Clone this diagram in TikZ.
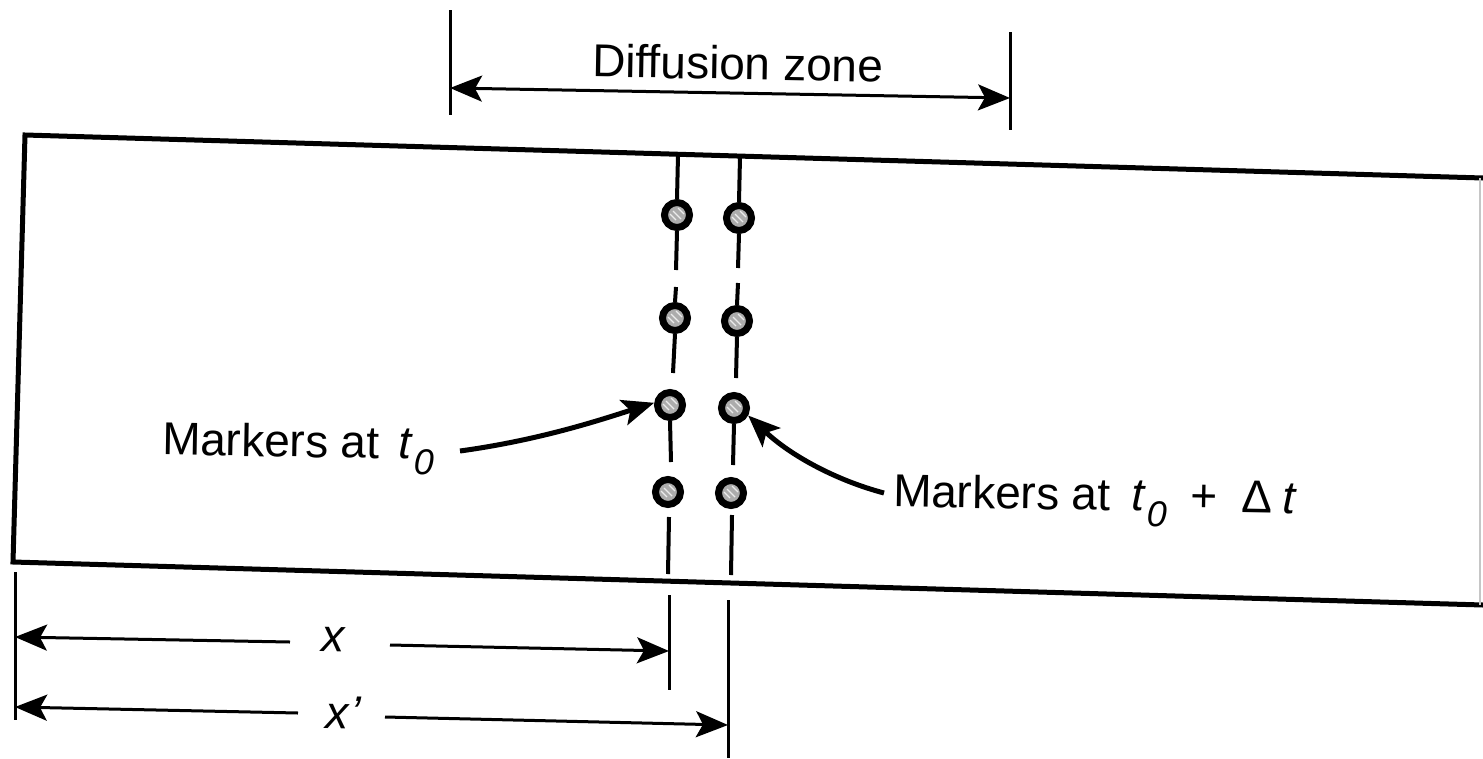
\documentclass[tikz,border=0pt]{standalone}
\usepackage{fontspec}
\setmainfont{Liberation Sans}
\usetikzlibrary{arrows.meta}
\newcommand{\tnought}{{\itshape t}\kern3pt\raisebox{-0.34em}{\fontsize{36}{36}\selectfont\itshape 0}}
\begin{document}
\begin{tikzpicture}[x=1pt,y=-1pt,
  edge/.style={line width=5pt, line join=miter},
  col/.style={line width=4pt},
  dim/.style={line width=3pt},
  tip/.style={-{Stealth[length=32pt,width=26pt,inset=7pt]}},
  lbl/.style={font=\fontsize{46}{50}\selectfont, inner sep=0pt, rotate=-1},
  marker/.style={circle, draw=black, line width=7pt, fill=gray!65, minimum size=25pt, inner sep=0pt,
    path picture={\draw[white!85!gray, line width=1.4pt] ([shift={(-4pt,4pt)}]path picture bounding box.center) -- ++(8pt,-8pt);
                  \draw[white!85!gray, line width=1.1pt] ([shift={(-7pt,1pt)}]path picture bounding box.center) -- ++(6pt,-6pt);
                  \draw[white!85!gray, line width=1.1pt] ([shift={(1pt,7pt)}]path picture bounding box.center) -- ++(6pt,-6pt);}}
]
\useasboundingbox (0,0) rectangle (1483,758);
\fill[white] (0,0) rectangle (1483,758);

% slab
\coordinate (TR) at (1483,178);
\coordinate (TL) at (25,135);
\coordinate (BL) at (13,562);
\coordinate (BR) at (1483,605);
\draw[edge] (TR) -- (TL) -- (BL) -- (BR);
\coordinate (RT) at (1480,178);
\coordinate (RB) at (1480,605);
\draw[gray!45, line width=1.5pt] (RT) -- (RB);

% markers
\node[marker] (L1) at (677,215) {};
\node[marker] (L2) at (675,318) {};
\node[marker] (L3) at (670,405) {};
\node[marker] (L4) at (668,492) {};
\node[marker] (R1) at (739,218) {};
\node[marker] (R2) at (737,321) {};
\node[marker] (R3) at (734,408) {};
\node[marker] (R4) at (731,493) {};

% column line segments
\coordinate (La) at (678,155);
\coordinate (Lb) at (676,270);
\coordinate (Lc) at (676,287);
\coordinate (Ld) at (673,373);
\coordinate (Le) at (671,462);
\coordinate (Lf) at (669,517);
\coordinate (Lg) at (668,574);
\draw[col] (La) -- (L1.north);
\draw[col] (L1.south) -- (Lb);
\draw[col] (Lc) -- (L2.north);
\draw[col] (L2.south) -- (Ld);
\draw[col] (L3.south) -- (Le);
\draw[col] (Lf) -- (Lg);
\coordinate (Ra) at (740,157);
\coordinate (Rb) at (738,268);
\coordinate (Rc) at (738,283);
\coordinate (Rd) at (736,378);
\coordinate (Re) at (733,465);
\coordinate (Rf) at (732,515);
\coordinate (Rg) at (731,575);
\draw[col] (Ra) -- (R1.north);
\draw[col] (R1.south) -- (Rb);
\draw[col] (Rc) -- (R2.north);
\draw[col] (R2.south) -- (Rd);
\draw[col] (R3.south) -- (Re);
\draw[col] (Rf) -- (Rg);

% diffusion zone
\coordinate (DZl1) at (450,10);
\coordinate (DZl2) at (450,115);
\coordinate (DZr1) at (1010,32);
\coordinate (DZr2) at (1010,130);
\coordinate (DZa) at (450,88);
\coordinate (DZb) at (1010,98);
\draw[dim] (DZl1) -- (DZl2);
\draw[dim] (DZr1) -- (DZr2);
\draw[dim, {Stealth[length=32pt,width=26pt,inset=7pt]}-{Stealth[length=32pt,width=26pt,inset=7pt]}] (DZa) -- (DZb);
\node[lbl] (dz) at (738,63) {Diffusion zone};

% labels with arrows
\node[lbl, anchor=west] (m0) at (162,446) {Markers at \kern6pt\tnought};
\coordinate (m0s) at (460,451);
\draw[line width=5pt, tip] (m0s) .. controls (540,440) and (600,420) .. (L3.172);
\node[lbl, anchor=west] (m1) at (893,498) {Markers at \kern8pt\tnought\kern24pt+\kern24pt Δ\kern10pt{\itshape t}};
\coordinate (m1s) at (884,493);
\draw[line width=5pt, tip] (m1s) .. controls (835,480) and (790,455) .. (R3.-28);

% lower dimension lines
\coordinate (D0a) at (15,572);
\coordinate (D0b) at (15,720);
\draw[dim] (D0a) -- (D0b);
\coordinate (DLa) at (669,595);
\coordinate (DLb) at (669,690);
\draw[dim] (DLa) -- (DLb);
\coordinate (DRa) at (728,600);
\coordinate (DRb) at (728,758);
\draw[dim] (DRa) -- (DRb);

\coordinate (X0) at (15,637);
\coordinate (X1) at (290,642);
\node[lbl] (xl) at (333,640) {\itshape x};
\coordinate (X2) at (390,645);
\coordinate (X3) at (669,651);
\draw[dim, tip] (X1) -- (X0);
\draw[dim, tip] (X2) -- (X3);

\coordinate (Y0) at (15,707);
\coordinate (Y1) at (298,713);
\node[lbl] (xp) at (343,713) {\itshape x\kern2pt\textquoteright};
\coordinate (Y2) at (385,717);
\coordinate (Y3) at (728,725);
\draw[dim, tip] (Y1) -- (Y0);
\draw[dim, tip] (Y2) -- (Y3);
\end{tikzpicture}
\end{document}
